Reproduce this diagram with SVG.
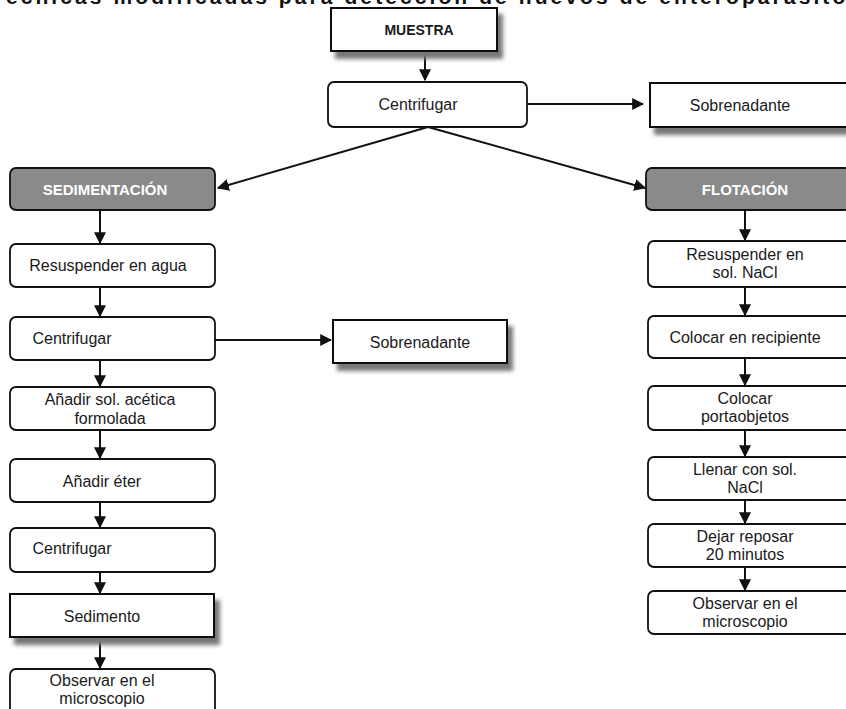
<svg xmlns="http://www.w3.org/2000/svg" width="846" height="709" viewBox="0 0 846 709">
<style>
.t{font-family:"Liberation Sans",Arial,sans-serif;font-size:16px;fill:#1a1a1a;text-anchor:middle}
.b{font-weight:bold;font-size:14px}
.w{fill:#fff;font-weight:bold;font-size:15px}
.r{fill:#fff;stroke:#111;stroke-width:1.8}
.g{fill:#8a8a8a;stroke:#111;stroke-width:1.8}
.s{fill:#fff;stroke:#111;stroke-width:2}
.c{stroke:#111;stroke-width:2;fill:none}
</style>
<defs>
<filter id="sh" x="-10%" y="-20%" width="130%" height="160%">
<feGaussianBlur in="SourceAlpha" stdDeviation="2"/>
<feOffset dx="5" dy="7" result="o"/>
<feFlood flood-color="#777"/>
<feComposite in2="o" operator="in"/>
<feMerge><feMergeNode/><feMergeNode in="SourceGraphic"/></feMerge>
</filter>
<marker id="a" viewBox="0 0 10 10" refX="9" refY="5" markerWidth="6" markerHeight="6" orient="auto" markerUnits="strokeWidth">
<path d="M0,0 L10,5 L0,10 z" fill="#111"/>
</marker>
</defs>
<rect width="846" height="709" fill="#fff"/>
<text x="-10" y="4" textLength="870" lengthAdjust="spacing" font-family="Liberation Sans,Arial,sans-serif" font-weight="bold" font-size="21" fill="#111">Técnicas modificadas para detección de huevos de enteroparásitos</text>

<g id="connectors">
<line class="c" x1="425" y1="52" x2="425" y2="80" marker-end="url(#a)"/>
<line class="c" x1="527" y1="104" x2="643" y2="104" marker-end="url(#a)"/>
<line class="c" x1="428" y1="127" x2="218" y2="188" marker-end="url(#a)"/>
<line class="c" x1="428" y1="127" x2="645" y2="188" marker-end="url(#a)"/>
<line class="c" x1="100" y1="210" x2="100" y2="243" marker-end="url(#a)"/>
<line class="c" x1="100" y1="287" x2="100" y2="316" marker-end="url(#a)"/>
<line class="c" x1="215" y1="340" x2="331" y2="340" marker-end="url(#a)"/>
<line class="c" x1="100" y1="360" x2="100" y2="386" marker-end="url(#a)"/>
<line class="c" x1="100" y1="430" x2="100" y2="458" marker-end="url(#a)"/>
<line class="c" x1="100" y1="502" x2="100" y2="527" marker-end="url(#a)"/>
<line class="c" x1="100" y1="572" x2="100" y2="593" marker-end="url(#a)"/>
<line class="c" x1="100" y1="637" x2="100" y2="668" marker-end="url(#a)"/>
<line class="c" x1="745" y1="210" x2="745" y2="240" marker-end="url(#a)"/>
<line class="c" x1="745" y1="287" x2="745" y2="315" marker-end="url(#a)"/>
<line class="c" x1="745" y1="358" x2="745" y2="385" marker-end="url(#a)"/>
<line class="c" x1="745" y1="430" x2="745" y2="456" marker-end="url(#a)"/>
<line class="c" x1="745" y1="500" x2="745" y2="523" marker-end="url(#a)"/>
<line class="c" x1="745" y1="567" x2="745" y2="590" marker-end="url(#a)"/>
</g>

<g id="muestra"><rect class="s" x="331" y="8" width="166" height="43" filter="url(#sh)"/><text class="t b" x="419" y="35">MUESTRA</text></g>
<g id="centrifugar1"><rect class="r" x="328" y="82" width="199" height="45" rx="6"/><text class="t" x="418" y="110">Centrifugar</text></g>
<g id="sobrenadante1"><rect class="s" x="650" y="83" width="200" height="44" filter="url(#sh)"/><text class="t" x="740" y="111">Sobrenadante</text></g>
<g id="sedimentacion"><rect class="g" x="10" y="168" width="205" height="42" rx="6"/><text class="t w" x="105" y="195">SEDIMENTACIÓN</text></g>
<g id="flotacion"><rect class="g" x="646" y="168" width="205" height="42" rx="6"/><text class="t w" x="745" y="195">FLOTACIÓN</text></g>

<g id="resuspender-agua"><rect class="r" x="10" y="244" width="205" height="43" rx="6"/><text class="t" x="108" y="271">Resuspender en agua</text></g>
<g id="centrifugar2"><rect class="r" x="10" y="317" width="205" height="43" rx="6"/><text class="t" x="72" y="344">Centrifugar</text></g>
<g id="sobrenadante2"><rect class="s" x="333" y="320" width="174" height="43" filter="url(#sh)"/><text class="t" x="420" y="348">Sobrenadante</text></g>
<g id="anadir-acetica"><rect class="r" x="10" y="387" width="205" height="43" rx="6"/><text class="t" x="110" y="405">Añadir sol. acética</text><text class="t" x="110" y="424">formolada</text></g>
<g id="anadir-eter"><rect class="r" x="10" y="459" width="205" height="43" rx="6"/><text class="t" x="102" y="487">Añadir éter</text></g>
<g id="centrifugar3"><rect class="r" x="10" y="528" width="205" height="44" rx="6"/><text class="t" x="72" y="554">Centrifugar</text></g>
<g id="sedimento"><rect class="s" x="10" y="594" width="204" height="43" filter="url(#sh)"/><text class="t" x="102" y="622">Sedimento</text></g>
<g id="observar1"><rect class="r" x="10" y="669" width="205" height="50" rx="6"/><text class="t" x="102" y="686">Observar en el</text><text class="t" x="102" y="704">microscopio</text></g>

<g id="resuspender-nacl"><rect class="r" x="648" y="241" width="205" height="46" rx="6"/><text class="t" x="745" y="260">Resuspender en</text><text class="t" x="745" y="278">sol. NaCl</text></g>
<g id="colocar-recipiente"><rect class="r" x="648" y="316" width="205" height="42" rx="6"/><text class="t" x="745" y="343">Colocar en recipiente</text></g>
<g id="colocar-portaobjetos"><rect class="r" x="648" y="386" width="205" height="44" rx="6"/><text class="t" x="745" y="404">Colocar</text><text class="t" x="745" y="422">portaobjetos</text></g>
<g id="llenar"><rect class="r" x="648" y="457" width="205" height="43" rx="6"/><text class="t" x="745" y="475">Llenar con sol.</text><text class="t" x="745" y="493">NaCl</text></g>
<g id="dejar"><rect class="r" x="648" y="524" width="205" height="43" rx="6"/><text class="t" x="745" y="542">Dejar reposar</text><text class="t" x="745" y="560">20 minutos</text></g>
<g id="observar2"><rect class="r" x="648" y="591" width="205" height="43" rx="6"/><text class="t" x="745" y="609">Observar en el</text><text class="t" x="745" y="627">microscopio</text></g>
</svg>
